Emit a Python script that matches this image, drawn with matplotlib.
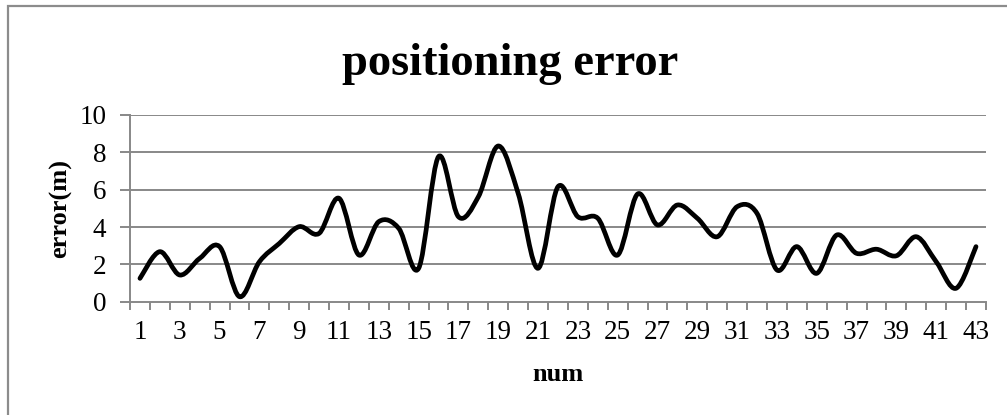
import numpy as np
import matplotlib
matplotlib.use('Agg')
import matplotlib.pyplot as plt
from matplotlib.path import Path
from matplotlib.patches import PathPatch, Rectangle

# values
num = list(range(1, 44))
error_m = [1.25, 2.68, 1.43, 2.32, 2.95, 0.27, 2.14, 3.12, 4.02, 3.66,
           5.54, 2.50, 4.29, 3.93, 1.79, 7.77, 4.55, 5.62, 8.34, 5.80,
           1.79, 6.16, 4.55, 4.47, 2.50, 5.77, 4.11, 5.18, 4.47, 3.48,
           5.09, 4.73, 1.70, 2.95, 1.52, 3.57, 2.59, 2.81, 2.46, 3.48,
           2.14, 0.72, 2.95]
y_ticks = [0, 2, 4, 6, 8, 10]
x_labels = [str(n) if n % 2 == 1 else '' for n in num]

plt.rcParams['font.family'] = ['Liberation Serif', 'DejaVu Serif']


def smooth_path(xs, ys):
    # excel-like smoothed line: bezier segments through every data point
    pts = np.column_stack([xs, ys]).astype(float)
    ext = np.vstack([pts[0], pts, pts[-1]])
    verts = [pts[0]]
    codes = [Path.MOVETO]
    for i in range(len(pts) - 1):
        p0, p1, p2, p3 = ext[i], ext[i + 1], ext[i + 2], ext[i + 3]
        c1 = p1 + (p2 - p0) / 6.0
        c2 = p2 - (p3 - p1) / 6.0
        verts += [c1, c2, p2]
        codes += [Path.CURVE4] * 3
    return Path(verts, codes)


fig = plt.figure(figsize=(10.07, 4.15), dpi=100)
ax = fig.add_axes([0.1291, 0.273, 0.85, 0.4499])

grid_col = '#888888'
for y in y_ticks[1:]:
    ax.axhline(y, color=grid_col, lw=1.4, zorder=1)

ax.add_patch(PathPatch(smooth_path(num, error_m), fill=False, edgecolor='black',
                       lw=3.4, capstyle='round', joinstyle='round', zorder=3))

ax.set_xlim(0.5, 43.5)
ax.set_ylim(0, 10)
ax.set_yticks(y_ticks)
ax.set_yticklabels([str(v) for v in y_ticks], fontsize=19.5)

ax.set_xticks(num)
ax.set_xticklabels(x_labels, fontsize=19.5)
ax.tick_params(axis='x', which='major', length=0, pad=13)
ax.set_xticks(np.arange(0.5, 44.0, 1.0), minor=True)
ax.tick_params(axis='x', which='minor', length=6, width=1.4, color=grid_col, direction='out')
ax.tick_params(axis='y', length=7, width=1.4, color=grid_col, direction='out', pad=10)

for s in ['top', 'right']:
    ax.spines[s].set_visible(False)
for s in ['left', 'bottom']:
    ax.spines[s].set_color(grid_col)
    ax.spines[s].set_linewidth(1.4)

ax.set_xlabel('num', fontsize=19, fontweight='bold', labelpad=13)
ax.set_ylabel('error(m)', fontsize=19, fontweight='bold', labelpad=5)

fig.text(0.507, 0.845, 'positioning error', ha='center', va='center',
         fontsize=33.5, fontweight='bold')

# outer chart frame (runs off the right and bottom of the crop)
fig.patches.append(Rectangle((8 / 1007, -0.1), 1.2, 1.1 - 6.5 / 415,
                             transform=fig.transFigure, fill=False,
                             edgecolor='#8c8c8c', lw=1.6))

fig.savefig('out.png', dpi=100)
